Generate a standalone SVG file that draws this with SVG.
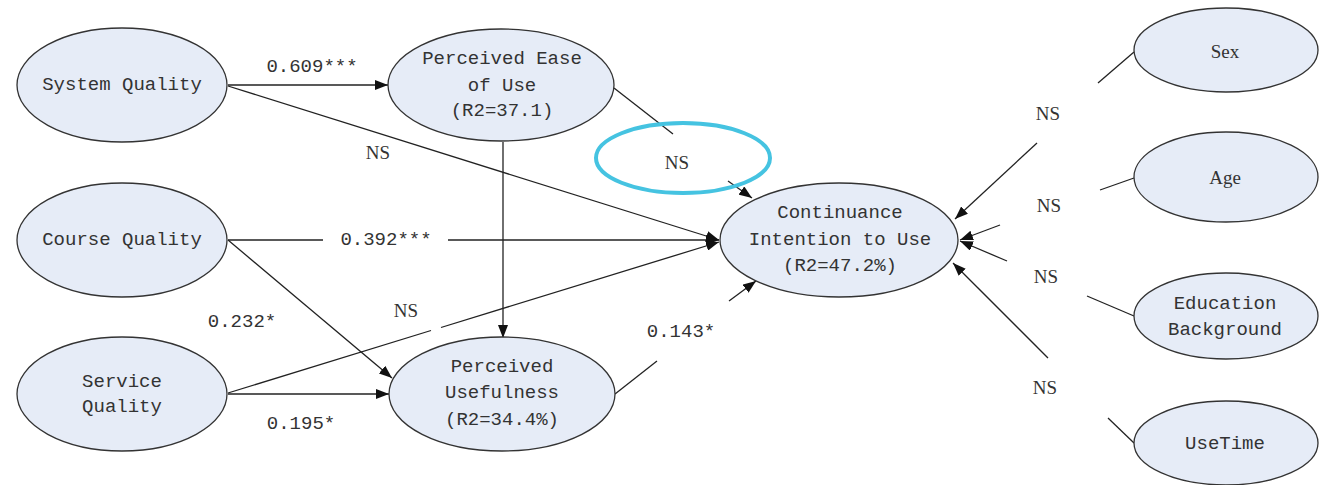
<svg xmlns="http://www.w3.org/2000/svg" width="1321" height="485" viewBox="0 0 1321 485">
<defs>
<style>
.n{fill:#e6ecf7;stroke:#333;stroke-width:1.3}
.t{font-family:"Liberation Mono",monospace;font-size:19px;fill:#333;text-anchor:middle;dominant-baseline:central}
.s{font-family:"Liberation Serif",serif;font-size:19px;fill:#333;text-anchor:middle;dominant-baseline:central}
.c{stroke:#222;stroke-width:1.3;fill:none}
.a{marker-end:url(#arr)}
</style>
<marker id="arr" viewBox="0 0 13 10" refX="13" refY="5" markerWidth="13" markerHeight="10" markerUnits="userSpaceOnUse" orient="auto">
<path d="M0,0 L13,5 L0,10 z" fill="#111"/>
</marker>
</defs>
<rect width="1321" height="485" fill="#fff"/>
<g id="connectors">
<line class="c a" x1="228" y1="85" x2="388" y2="85"/>
<line class="c a" x1="228" y1="86" x2="719" y2="240"/>
<line class="c" x1="614" y1="88" x2="673" y2="134"/>
<line class="c a" x1="728" y1="181" x2="752" y2="198"/>
<line class="c a" x1="503" y1="142" x2="503" y2="338"/>
<line class="c" x1="228" y1="240" x2="323" y2="240"/>
<line class="c a" x1="448" y1="240" x2="719" y2="240"/>
<line class="c a" x1="228" y1="240" x2="392" y2="378"/>
<line class="c a" x1="228" y1="394" x2="389" y2="394"/>
<line class="c" x1="228" y1="393" x2="431" y2="330.5"/>
<line class="c a" x1="441" y1="327.5" x2="719" y2="242"/>
<line class="c" x1="615" y1="394" x2="657" y2="361"/>
<line class="c a" x1="729" y1="301" x2="756" y2="281"/>
<line class="c" x1="1134" y1="52" x2="1098" y2="83"/>
<line class="c a" x1="1037" y1="143" x2="955" y2="219"/>
<line class="c" x1="1134" y1="178" x2="1100" y2="190"/>
<line class="c a" x1="1000" y1="225" x2="960" y2="240"/>
<line class="c" x1="1134" y1="316" x2="1087" y2="296"/>
<line class="c a" x1="1007" y1="261" x2="960" y2="241"/>
<line class="c" x1="1134" y1="443" x2="1108" y2="418"/>
<line class="c a" x1="1048" y1="358" x2="953" y2="263"/>
<text class="t" x="312" y="67">0.609***</text>
<text class="s" x="378" y="152">NS</text>
<text class="s" x="677" y="162">NS</text>
<text class="t" x="386" y="240">0.392***</text>
<text class="t" x="242" y="322">0.232*</text>
<text class="s" x="406" y="310">NS</text>
<text class="t" x="301" y="424">0.195*</text>
<text class="t" x="681" y="332">0.143*</text>
<text class="s" x="1048" y="113">NS</text>
<text class="s" x="1049" y="205">NS</text>
<text class="s" x="1046" y="276">NS</text>
<text class="s" x="1045" y="387">NS</text>
</g>
<g id="system-quality">
<ellipse class="n" cx="122" cy="85" rx="105" ry="57"/>
<text class="t" x="122" y="85">System Quality</text>
</g>
<g id="perceived-ease-of-use">
<ellipse class="n" cx="501" cy="85" rx="113" ry="56"/>
<text class="t" x="502" y="59">Perceived Ease</text>
<text class="t" x="502" y="86">of Use</text>
<text class="t" x="502" y="111">(R2=37.1)</text>
</g>
<g id="course-quality">
<ellipse class="n" cx="122" cy="240" rx="105" ry="57"/>
<text class="t" x="122" y="240">Course Quality</text>
</g>
<g id="service-quality">
<ellipse class="n" cx="122" cy="394" rx="105" ry="57"/>
<text class="t" x="122" y="382">Service</text>
<text class="t" x="122" y="407">Quality</text>
</g>
<g id="perceived-usefulness">
<ellipse class="n" cx="502" cy="394" rx="113" ry="57"/>
<text class="t" x="502" y="367">Perceived</text>
<text class="t" x="502" y="393">Usefulness</text>
<text class="t" x="502" y="420">(R2=34.4%)</text>
</g>
<g id="continuance-intention">
<ellipse class="n" cx="839" cy="240" rx="119" ry="57"/>
<text class="t" x="840" y="213">Continuance</text>
<text class="t" x="840" y="240">Intention to Use</text>
<text class="t" x="840" y="266">(R2=47.2%)</text>
</g>
<g id="sex">
<ellipse class="n" cx="1226" cy="50" rx="92" ry="42"/>
<text class="s" x="1225" y="51">Sex</text>
</g>
<g id="age">
<ellipse class="n" cx="1226" cy="177" rx="92" ry="45"/>
<text class="s" x="1225" y="177">Age</text>
</g>
<g id="education-background">
<ellipse class="n" cx="1226" cy="316" rx="92" ry="43"/>
<text class="t" x="1225" y="304">Education</text>
<text class="t" x="1225" y="330">Background</text>
</g>
<g id="usetime">
<ellipse class="n" cx="1226" cy="443" rx="92" ry="42"/>
<text class="t" x="1225" y="444">UseTime</text>
</g>
<g id="highlight">
<ellipse cx="683" cy="158" rx="87" ry="35" fill="none" stroke="#45c3e1" stroke-width="4"/>
</g>
</svg>
